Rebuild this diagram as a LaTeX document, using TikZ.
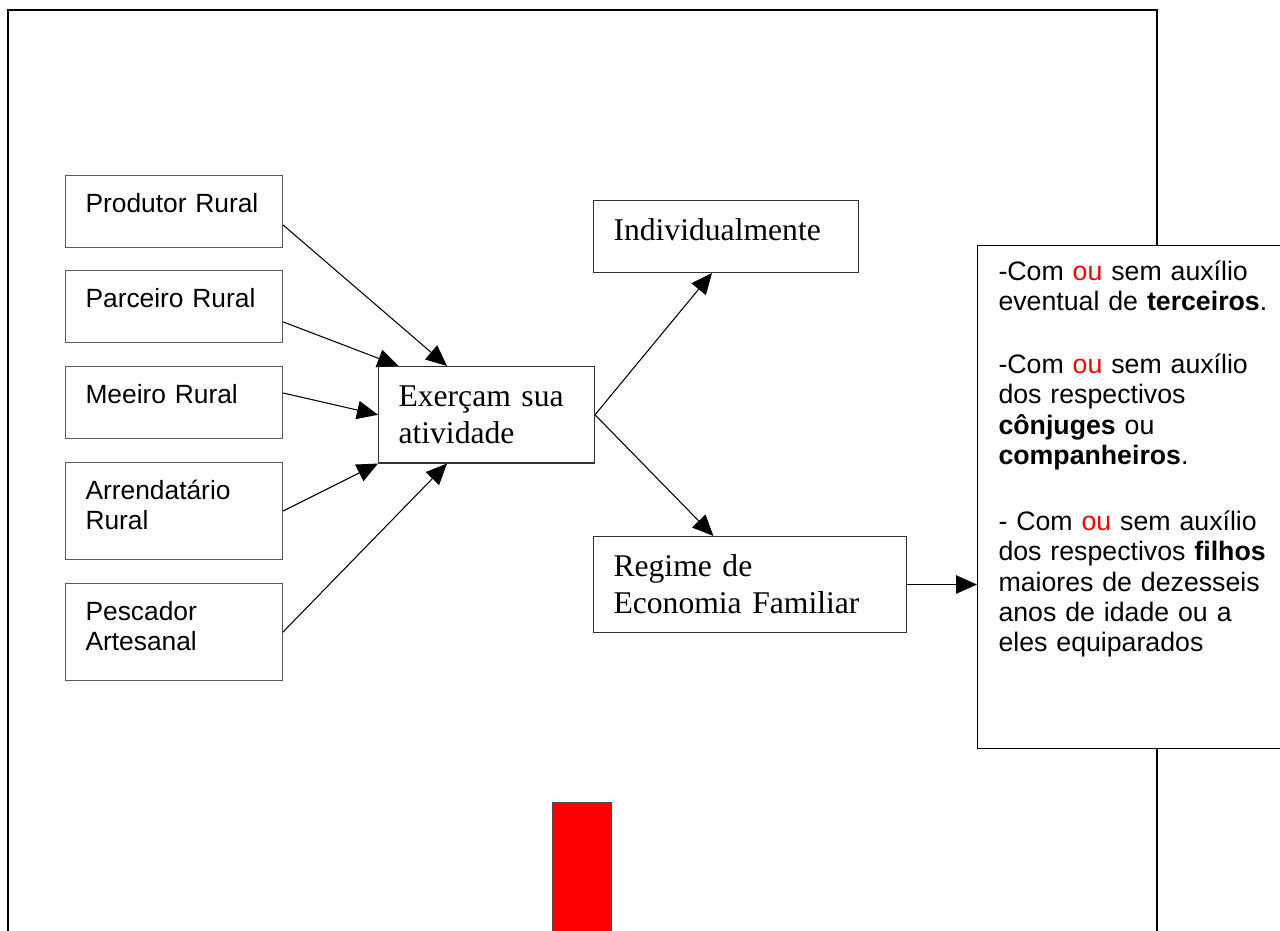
\documentclass[tikz,border=0pt]{standalone}
\usepackage{fontspec}
\setmainfont{Liberation Serif}
\newfontfamily\arialfont{Liberation Sans}
\usetikzlibrary{arrows.meta,calc}

\tikzset{
	campo/.style={draw=black!65, line width=0.6pt, anchor=north west, align=left,
		text width=3.54cm, inner xsep=0.4cm, inner ysep=0pt,
		text height=0.74cm, text depth=0.7cm,
		font=\arialfont\fontsize{15pt}{17.3pt}\selectfont},
	alto/.style={text depth=1.2cm},
	modo/.style={draw=black!80, line width=0.6pt, anchor=north west, align=left,
		inner xsep=0.4cm, inner ysep=0pt, text height=0.8cm,
		font=\fontsize{18pt}{20.8pt}\selectfont},
	nota/.style={draw, fill=white, line width=0.6pt, anchor=north west, align=left,
		text width=5.42cm, inner xsep=0.42cm, inner ysep=0pt,
		text height=0.7cm, text depth=9.36cm,
		font=\arialfont\fontsize{15.2pt}{17.3pt}\selectfont},
	seta/.style={-{Triangle[length=0.42cm,width=0.37cm]}, line width=0.6pt}
}

\begin{document}
\begin{tikzpicture}[x=0.02cm, y=-0.02cm]
		\useasboundingbox (0,0) rectangle (1280,930);
		
		% moldura da pagina
		\draw[line width=1.3pt] (8,940) -- (8,10) -- (1157,10) -- (1157,940);
		
		% quem
		\node[campo] (prod) at (65,175) {Produtor Rural};
		\node[campo] (parc) at (65,270) {Parceiro Rural};
		\node[campo] (meei) at (65,366) {Meeiro Rural};
		\node[campo, alto] (arre) at (65,462) {Arrendatário\\Rural};
		\node[campo, alto] (pesc) at (65,583) {Pescador\\Artesanal};
		
		% como
		\node[modo, text width=3.52cm, text depth=1.13cm] (exer) at (378,366) {Exerçam sua\\atividade};
		\node[modo, text width=4.5cm, text depth=0.64cm] (indi) at (593,200) {Individualmente};
		\node[modo, text width=5.46cm, text depth=1.12cm] (regi) at (593,536) {Regime de\\Economia Familiar};
		
		\node[nota] (note) at (977,245) {-Com \textcolor{red}{ou} sem auxílio\\
			eventual de \textbf{terceiros}.\\[0.64cm]
			-Com \textcolor{red}{ou} sem auxílio\\
			dos respectivos\\
			\textbf{cônjuges} ou\\
			\textbf{companheiros}.\\[0.71cm]
			- Com \textcolor{red}{ou} sem auxílio\\
			dos respectivos \textbf{filhos}\\
			maiores de dezesseis\\
			anos de idade ou a\\
			eles equiparados};
		
		\draw[seta] (prod.-7) -- (exer.129);
		\draw[seta] (parc.-8) -- (exer.151);
		\draw[seta] (meei.5) -- (exer.west);
		\draw[seta] (arre.east) -- (exer.south west);
		\draw[seta] (pesc.east) -- (exer.231);
		
		\draw[seta] (exer.east) -- (indi.249);
		\draw[seta] (exer.east) -- (regi.127);
		\draw[seta] (regi.east) -- (regi.east -| note.west);
		
		% marca vermelha
		\filldraw[fill=red, draw=black!70, line width=0.5pt] (552,802) rectangle (611,940);
	\end{tikzpicture}
\end{document}
